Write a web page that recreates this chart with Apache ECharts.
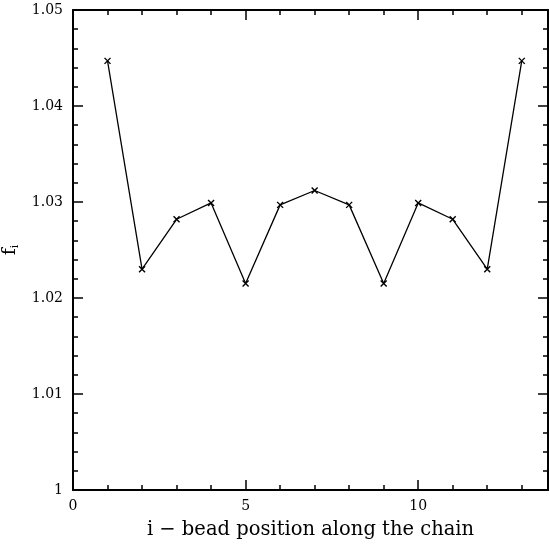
<!DOCTYPE html>
<html>
<head>
<meta charset="utf-8">
<script src="https://cdn.jsdelivr.net/npm/echarts@6/dist/echarts.min.js"></script>
<style>
html, body { margin: 0; padding: 0; background: #fff; }
#chart { width: 550px; height: 545px; }
</style>
</head>
<body>
<div id="chart"></div>
<script>
// bead index and f_i
var beads = [1, 2, 3, 4, 5, 6, 7, 8, 9, 10, 11, 12, 13];
var fValues = [1.0447, 1.0230, 1.0282, 1.0299, 1.0215, 1.0297, 1.0312, 1.0297, 1.0215, 1.0299, 1.0282, 1.0230, 1.0447];
var xMajorTicks = [0, 5, 10];
var xMinorTicks = [1, 2, 3, 4, 6, 7, 8, 9, 11, 12, 13];

var font = 'DejaVu Serif';
var chart = echarts.init(document.getElementById('chart'));

function xAxisFor(pos, major) {
  return {
    type: 'value', position: pos, min: 0, max: 13.76,
    axisLine: { show: major, onZero: false, lineStyle: { color: '#000', width: 2 } },
    axisTick: { show: true, inside: true, length: major ? 10 : 5,
      customValues: major ? xMajorTicks : xMinorTicks,
      lineStyle: { color: '#000', width: 1.5 } },
    axisLabel: { show: major && pos === 'bottom', customValues: xMajorTicks,
      color: '#000', fontFamily: font, fontSize: 14, margin: 9 },
    splitLine: { show: false },
    name: (major && pos === 'bottom') ? 'i \u2212 bead position along the chain' : '',
    nameLocation: 'middle', nameGap: 30,
    nameTextStyle: { color: '#000', fontFamily: font, fontSize: 19.5 }
  };
}

function yAxisFor(pos) {
  return {
    type: 'value', position: pos, min: 1, max: 1.05, interval: 0.01,
    axisLine: { show: true, onZero: false, lineStyle: { color: '#000', width: 2 } },
    axisTick: { show: true, inside: true, length: 10, lineStyle: { color: '#000', width: 1.5 } },
    minorTick: { show: true, splitNumber: 5, length: 5, lineStyle: { color: '#000', width: 1.5 } },
    axisLabel: { show: pos === 'left', color: '#000', fontFamily: font, fontSize: 14, margin: 10,
      formatter: function (v) { return String(+v.toFixed(2)); } },
    splitLine: { show: false },
    name: pos === 'left' ? '{f|f}{s|i}' : '',
    nameLocation: 'middle', nameGap: 39, nameRotate: 90,
    nameTextStyle: { rich: {
      f: { fontFamily: font, fontSize: 19, color: '#000' },
      s: { fontFamily: font, fontSize: 11, color: '#000', verticalAlign: 'bottom', padding: [10, 0, 0, 0] }
    } }
  };
}

chart.setOption({
  backgroundColor: '#fff',
  animation: false,
  grid: { left: 73, right: 2, top: 10, bottom: 55, outerBoundsMode: 'none' },
  xAxis: [xAxisFor('bottom', true), xAxisFor('bottom', false), xAxisFor('top', true), xAxisFor('top', false)],
  yAxis: [yAxisFor('left'), yAxisFor('right')],
  series: [{
    type: 'line',
    data: beads.map(function (b, i) { return [b, fValues[i]]; }),
    symbol: 'path://M0,0L10,10M0,10L10,0',
    symbolSize: 6,
    itemStyle: { color: 'none', borderColor: '#000', borderWidth: 1.4 },
    lineStyle: { color: '#000', width: 1.3 }
  }]
});
</script>
</body>
</html>
